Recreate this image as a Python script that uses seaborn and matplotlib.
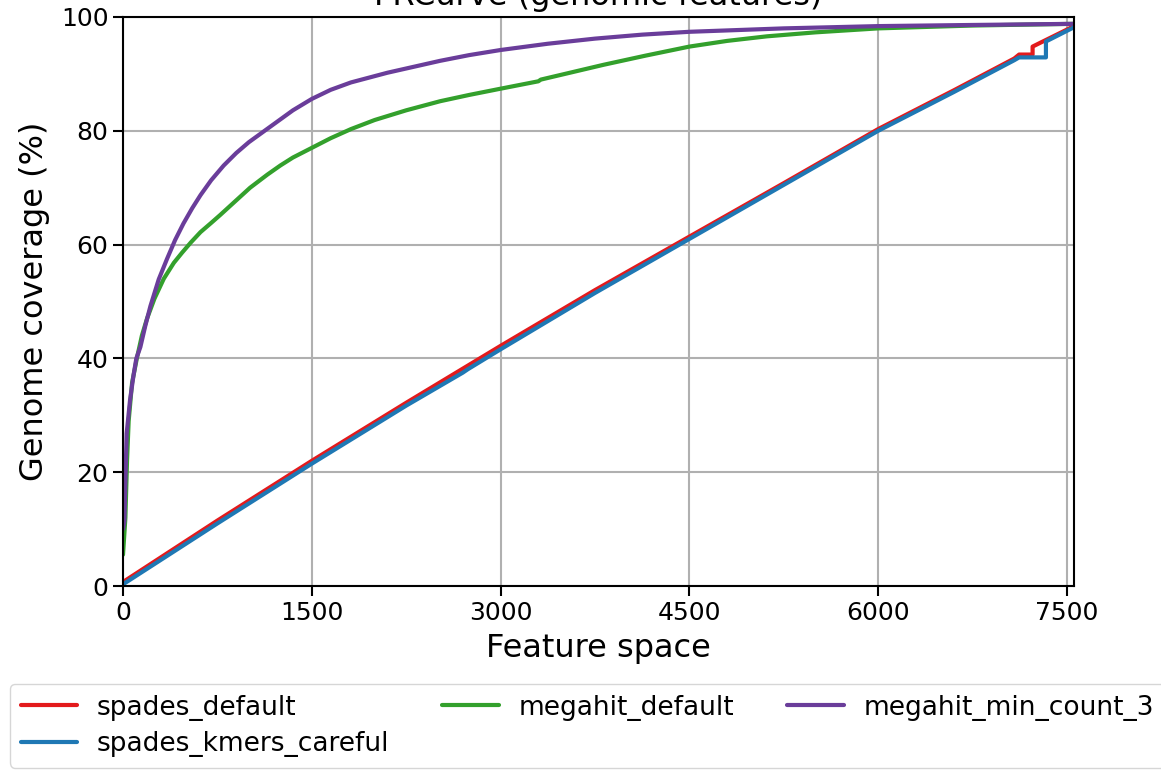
import numpy as np
import pandas as pd
import matplotlib
matplotlib.use("Agg")
import matplotlib.pyplot as plt
from matplotlib.lines import Line2D
import seaborn as sns

# ---- data ----
names = ["spades_default", "spades_kmers_careful", "megahit_default", "megahit_min_count_3"]
colors = ["#e31a1c", "#1f78b4", "#33a02c", "#6a3d9a"]

spades_default_x = [0, 750, 1500, 2250, 3000, 3750, 4500, 5250, 6000, 6600, 7081, 7120, 7227, 7227, 7318, 7556]
spades_default_y = [0.7, 11.5, 22.0, 32.2, 42.2, 52.0, 61.4, 70.8, 80.3, 87.1, 92.7, 93.4, 93.4, 94.8, 95.8, 98.4]

spades_kmers_x = [0, 750, 1500, 2250, 2700, 2740, 3000, 3750, 4500, 5250, 6000, 6600, 7081, 7120, 7333, 7333, 7556]
spades_kmers_y = [0.3, 11.0, 21.5, 31.7, 37.5, 38.1, 41.6, 51.5, 61.0, 70.5, 80.0, 86.8, 92.4, 92.9, 92.9, 95.7, 98.2]

megahit_default_x = [0, 19, 32, 45, 72, 110, 150, 191, 250, 324, 404, 470, 540, 616, 700, 772, 881, 1010,
                     1147, 1250, 1350, 1500, 1650, 1811, 2000, 2250, 2520, 2750, 3000, 3300, 3320, 3550, 3818,
                     4150, 4500, 4800, 5115, 5500, 6000, 6750, 7556]
megahit_default_y = [5.5, 12.0, 22.0, 29.0, 35.7, 40.0, 44.0, 47.0, 50.5, 54.0, 56.8, 58.6, 60.4, 62.2, 63.8,
                     65.2, 67.4, 70.0, 72.3, 73.9, 75.3, 77.0, 78.7, 80.3, 81.9, 83.6, 85.2, 86.3, 87.4, 88.7,
                     89.0, 90.2, 91.6, 93.2, 94.8, 95.8, 96.6, 97.3, 98.0, 98.5, 98.8]

megahit_min3_x = [0, 11, 29, 56, 82, 106, 138, 178, 218, 284, 350, 414, 480, 550, 616, 700, 800, 900, 1000,
                  1100, 1200, 1350, 1500, 1650, 1811, 2100, 2300, 2520, 2750, 3000, 3375, 3750, 4125,
                  4500, 5250, 6000, 6750, 7556]
megahit_min3_y = [10.0, 11.4, 26.8, 32.7, 36.8, 40.0, 42.0, 45.8, 49.2, 53.9, 57.5, 60.8, 63.7, 66.4, 68.7,
                  71.3, 73.9, 76.1, 78.0, 79.6, 81.2, 83.6, 85.6, 87.2, 88.5, 90.2, 91.2, 92.3, 93.3,
                  94.2, 95.3, 96.2, 96.9, 97.4, 98.0, 98.4, 98.6, 98.8]

x_ticks = [0, 1500, 3000, 4500, 6000, 7500]
y_ticks = [0, 20, 40, 60, 80, 100]

series = [(spades_default_x, spades_default_y), (spades_kmers_x, spades_kmers_y),
          (megahit_default_x, megahit_default_y), (megahit_min3_x, megahit_min3_y)]
frames = []
for name, (xs, ys) in zip(names, series):
    frames.append(pd.DataFrame({"x": xs, "y": ys, "assembly": name}))
df = pd.concat(frames, ignore_index=True)

# ---- style ----
sns.set_theme(style="ticks")
plt.rcParams["font.family"] = ["DejaVu Sans"]
plt.rcParams["text.color"] = "black"
plt.rcParams["axes.labelcolor"] = "black"
plt.rcParams["xtick.color"] = "black"
plt.rcParams["ytick.color"] = "black"
plt.rcParams["axes.edgecolor"] = "black"
plt.rcParams["axes.linewidth"] = 1.5

W, H = 1161, 774
fig = plt.figure(figsize=(W / 100, H / 100), dpi=100)
ax = fig.add_axes([123 / W, 1 - 586 / H, (1074 - 123) / W, (586 - 17) / H])

sns.lineplot(data=df, x="x", y="y", hue="assembly", hue_order=names, palette=colors,
             estimator=None, sort=False, units="assembly", linewidth=3, ax=ax, legend=False)

ax.set_xlim(0, 7556)
ax.set_ylim(0, 100)
ax.set_xticks(x_ticks)
ax.set_yticks(y_ticks)
ax.grid(True, color="#b0b0b0", linewidth=1.5)
ax.tick_params(direction="out", length=7, width=1.5, colors="black", labelsize=18)
for s in ax.spines.values():
    s.set_color("black")
    s.set_linewidth(1.5)

ax.set_xlabel("Feature space", fontsize=23, labelpad=6, color="black")
ax.set_ylabel("Genome coverage (%)", fontsize=23, labelpad=8, color="black")
ax.set_title("FRCurve (genomic features)", fontsize=23, pad=9, color="black")

handles = [Line2D([0], [0], color=c, lw=3) for c in colors]
leg = fig.legend(handles, names, loc="upper left", bbox_to_anchor=(10 / W, 1 - 684 / H),
                 ncol=3, fontsize=19, handlelength=2.15, handletextpad=0.75,
                 columnspacing=2.0, labelspacing=0.4, frameon=True, borderaxespad=0)
leg.get_frame().set_edgecolor("#cccccc")
for t in leg.get_texts():
    t.set_color("black")

fig.savefig("out.png", dpi=100)
